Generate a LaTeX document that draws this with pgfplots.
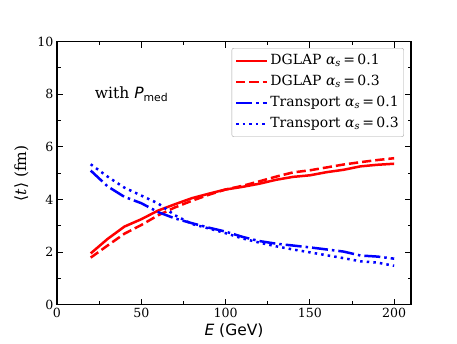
\documentclass[border=0pt]{standalone}
\usepackage{fontspec}
\setmainfont{DejaVu Serif}
\setsansfont{DejaVu Sans}
\usepackage{pgfplots}
\pgfplotsset{compat=1.18}

\newcommand{\as}{{\itshape α}\textsubscript{\itshape s}\,=\,}

\begin{document}
\begin{tikzpicture}
\path (-57pt,-38.3pt) rectangle (400pt,304.7pt);
\begin{axis}[
  at={(0,0)}, anchor=south west,
  scale only axis, width=354pt, height=263pt,
  xmin=0, xmax=210, ymin=0, ymax=10,
  xtick={0,50,100,150,200}, ytick={0,2,4,6,8,10},
  minor xtick={25,75,125,175}, minor ytick={1,3,5,7,9},
  xticklabel={\pgfmathprintnumber[assume math mode=true]{\tick}},
  yticklabel={\pgfmathprintnumber[assume math mode=true]{\tick}},
  tick align=inside, major tick length=6pt, minor tick length=3.5pt,
  every tick/.style={black, line width=1pt},
  axis line style={line width=1.5pt},
  tick label style={font=\fontsize{12.6}{14}\selectfont},
  xlabel={{\sffamily\itshape E} {\sffamily (GeV)}},
  ylabel={⟨\textit{t}⟩ (fm)},
  label style={font=\fontsize{15.5}{18}\selectfont},
  xlabel style={yshift=1pt}, ylabel style={yshift=2pt},
  legend cell align=left,
  legend style={at={(0.98,0.976)}, anchor=north east, draw=gray!70,
    rounded corners=2pt, font=\fontsize{14}{16}\selectfont,
    row sep=3.5pt, inner xsep=3pt, inner ysep=4pt,
    nodes={text height=11pt, text depth=4.5pt, inner ysep=1pt}},
  legend image code/.code={\draw[#1] (0pt,0pt) -- (31pt,0pt);},
]
\addplot[red, line width=2.5pt] coordinates {
 (20,1.95) (30,2.5) (40,2.97) (50,3.25) (60,3.58) (70,3.82) (80,4.05) (90,4.22) (100,4.38)
 (110,4.48) (120,4.6) (130,4.75) (140,4.86) (150,4.92) (160,5.04) (170,5.13) (180,5.26) (190,5.32) (200,5.36)};
\addlegendentry{DGLAP \as0.1}
\addplot[red, line width=2.5pt, dash pattern=on 9.25pt off 4pt] coordinates {
 (20,1.79) (30,2.25) (40,2.7) (50,3.03) (60,3.4) (70,3.7) (80,3.95) (90,4.18) (100,4.38)
 (110,4.52) (120,4.69) (130,4.87) (140,5.03) (150,5.11) (160,5.22) (170,5.33) (180,5.42) (190,5.5) (200,5.57)};
\addlegendentry{DGLAP \as0.3}
\addplot[blue, line width=2.5pt, dash pattern=on 16pt off 4pt on 2.5pt off 4pt] coordinates {
 (20,5.1) (30,4.5) (40,4.1) (50,3.86) (60,3.52) (70,3.28) (80,3.1) (90,2.93) (100,2.78)
 (110,2.58) (120,2.42) (130,2.32) (140,2.25) (150,2.18) (160,2.1) (170,2.02) (180,1.87) (190,1.83) (200,1.75)};
\addlegendentry{Transport \as0.1}
\addplot[blue, line width=2.5pt, dash pattern=on 2.5pt off 4.1pt] coordinates {
 (20,5.34) (30,4.87) (40,4.45) (50,4.15) (60,3.85) (70,3.4) (80,3.07) (90,2.9) (100,2.72)
 (110,2.52) (120,2.36) (130,2.22) (140,2.1) (150,1.99) (160,1.88) (170,1.77) (180,1.65) (190,1.6) (200,1.48)};
\addlegendentry{Transport \as0.3}
\node[anchor=west, font=\fontsize{15.5}{18}\selectfont, inner sep=0pt] at (axis cs:22.4,8)
  {with {\sffamily\itshape P}{\sffamily\textsubscript{med}}};
\end{axis}
\end{tikzpicture}
\end{document}
